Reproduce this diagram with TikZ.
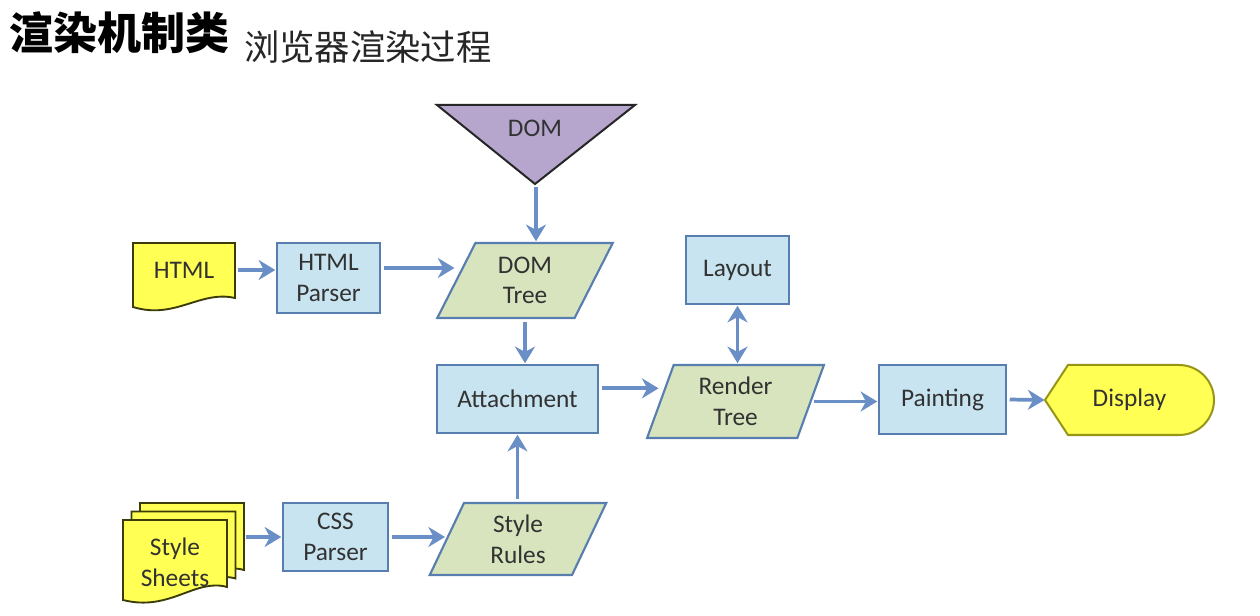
\documentclass[tikz,border=0pt]{standalone}
\usepackage{fontspec}
\setmainfont{Carlito}
\newfontfamily\cjk{Noto Sans CJK SC}
\usetikzlibrary{shapes.geometric,arrows.meta}
\definecolor{boxfill}{RGB}{200,228,240}
\definecolor{boxline}{RGB}{88,126,176}
\definecolor{parfill}{RGB}{216,228,190}
\definecolor{yel}{RGB}{255,255,84}
\definecolor{yelline}{RGB}{60,60,10}
\definecolor{displine}{RGB}{150,150,20}
\definecolor{domfill}{RGB}{182,166,206}
\definecolor{arrowc}{RGB}{106,143,198}
\definecolor{txt}{RGB}{50,50,50}
\begin{document}
\begin{tikzpicture}[x=0.75pt,y=-0.75pt,
  lbl/.style={text=txt,font=\fontsize{19}{23}\selectfont,align=center,inner sep=0pt},
  box/.style={lbl,draw=boxline,fill=boxfill,line width=1.6pt,rectangle},
  par/.style={lbl,draw=boxline,fill=parfill,line width=1.6pt,trapezium,
    trapezium stretches=true,inner sep=0pt},
  ghost/.style={lbl,rectangle},
  doc/.style={draw=yelline,fill=yel,line width=1.4pt},
  tip/.tip={Stealth[length=12.5pt,width=15pt,inset=4pt]},
  arr/.style={draw=arrowc,line width=2.8pt,-tip,shorten <=2pt,shorten >=0.5pt},
  darr/.style={arr,tip-tip,shorten <=0.5pt}
]
\useasboundingbox[fill=white] (0,0) rectangle (1260,616);

% title
\node[anchor=west,inner sep=0pt,font=\cjk\bfseries\fontsize{33}{36}\selectfont] (title) at (9,33) {渲染机制类};
\node[anchor=west,inner sep=0pt,font=\cjk\fontsize{26.5}{30}\selectfont,text=black!85] (sub) at (244,47) {浏览器渲染过程};

% DOM triangle
\draw[draw=black!85,fill=domfill,line width=1.5pt] (437,105) -- (635,105) -- (535,184) -- cycle;
\node[ghost,minimum width=148.5pt,minimum height=59.25pt] (dom) at (536,144.5) {};
\node[lbl] (domtxt) at (535,128) {DOM};

% HTML document
\draw[doc] (133,243) -- (235,243) -- (235,298) .. controls (200,290) and (175,320) .. (133,307) -- cycle;
\node[ghost,minimum width=76.5pt,minimum height=40pt] (html) at (184,270) {HTML};

% Style sheets stack
\foreach \d in {17,8.5,0}{
  \draw[doc] (123+\d,520-\d) -- (227+\d,520-\d) -- (227+\d,587-\d)
    .. controls (195+\d,578-\d) and (170+\d,612-\d) .. (123+\d,600-\d) -- cycle;
}
\node[ghost,minimum width=102pt,minimum height=50pt] (ss) at (175,562) {Style\\Sheets};

% boxes
\node[box,minimum width=77.25pt,minimum height=52.5pt] (hp) at (328.5,278) {HTML\\Parser};
\node[box,minimum width=78.75pt,minimum height=51pt] (cssp) at (335.5,537) {CSS\\Parser};
\node[box,minimum width=120.75pt,minimum height=51pt] (att) at (517.5,399) {Attachment};
\node[box,minimum width=77.25pt,minimum height=51pt] (lay) at (737.5,270) {Layout};
\node[box,minimum width=95.25pt,minimum height=51.75pt] (paint) at (942.5,399.5) {Painting};

% parallelograms
\node[par,trapezium left angle=66.25,trapezium right angle=113.75,
  minimum width=132pt,minimum height=56.25pt] (dt) at (525,280.5) {DOM\\Tree};
\node[par,trapezium left angle=71.8,trapezium right angle=108.2,
  minimum width=132.75pt,minimum height=54.75pt] (rt) at (735.5,401.5) {Render\\Tree};
\node[par,trapezium left angle=70.1,trapezium right angle=109.9,
  minimum width=132.75pt,minimum height=54pt] (sr) at (518,539) {Style\\Rules};

% Display
\draw[draw=displine,fill=yel,line width=1.5pt] (1045,400) -- (1068,365) -- (1179,365)
  arc[start angle=-90,end angle=90,radius=35] -- (1068,435) -- cycle;
\node[ghost,minimum width=126pt,minimum height=52.5pt] (disp) at (1129.5,400) {Display};

% connectors
\draw[arr] (dom.south) -- (dt.north -| dom.south);
\draw[arr] (html.east) -- (html.east -| hp.west);
\draw[arr] ([yshift=7.5pt]hp.east) -- ([yshift=7.5pt]hp.east -| dt.west);
\draw[arr] (dt.south) -- (dt.south |- att.north);
\draw[arr] (sr.north -| att.south) -- (att.south);
\draw[arr] (ss.east |- cssp.west) -- (cssp.west);
\draw[arr] (cssp.east) -- (cssp.east -| sr.west);
\draw[arr] ([yshift=8pt]att.east) -- ([yshift=8pt]att.east -| rt.west);
\draw[arr] (rt.east) -- (rt.east -| paint.west);
\draw[arr] (paint.east) -- (disp.west);
\draw[darr] (lay.south) -- (lay.south |- rt.north);
\end{tikzpicture}
\end{document}
